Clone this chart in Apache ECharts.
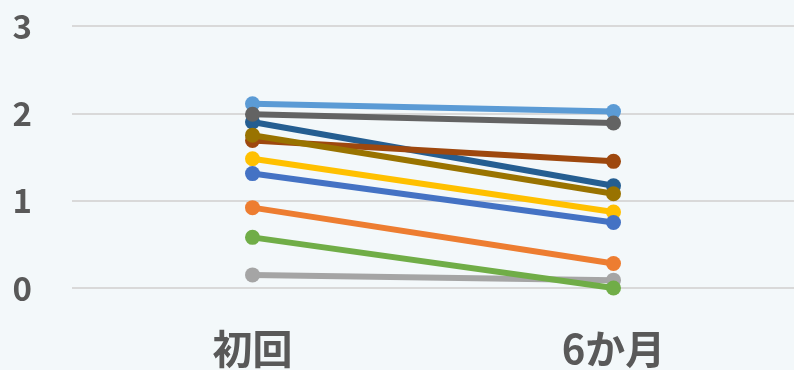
<!DOCTYPE html>
<html>
<head>
<meta charset="utf-8">
<script src="https://cdn.jsdelivr.net/npm/echarts@6/dist/echarts.min.js"></script>
<style>
  html, body { margin: 0; padding: 0; background: #F3F8FA; }
  #chart { width: 794px; height: 370px; }
</style>
</head>
<body>
<div id="chart"></div>
<script>
// Time points on the x axis
const categories = ['初回', '6か月'];
const yTicks = [0, 1, 2, 3];

// One line per subject: [初回, 6か月]
const s1 = [2.11, 2.02];
const s2 = [0.92, 0.28];
const s3 = [0.15, 0.09];
const s4 = [1.48, 0.87];
const s5 = [1.31, 0.75];
const s6 = [0.58, 0.00];
const s7 = [1.90, 1.17];
const s8 = [1.69, 1.45];
const s9 = [1.99, 1.89];
const s10 = [1.75, 1.08];

const seriesValues = [s1, s2, s3, s4, s5, s6, s7, s8, s9, s10];
const colors = ['#5B9BD5', '#ED7D31', '#A5A5A5', '#FFC000', '#4472C4',
                '#70AD47', '#255E91', '#9E480E', '#636363', '#997300'];

const chart = echarts.init(document.getElementById('chart'));
chart.setOption({
  backgroundColor: '#F3F8FA',
  animation: false,
  grid: { left: 72, right: 0, top: 26, bottom: 82 },
  xAxis: {
    type: 'category',
    data: categories,
    boundaryGap: true,
    axisLine: { show: false },
    axisTick: { show: false },
    axisLabel: {
      color: '#595959',
      fontFamily: 'Noto Sans CJK JP',
      fontWeight: 'bold',
      fontSize: 40,
      margin: 41
    }
  },
  yAxis: {
    type: 'value',
    min: yTicks[0],
    max: yTicks[yTicks.length - 1],
    interval: 1,
    axisLine: { show: false },
    axisTick: { show: false },
    splitLine: { lineStyle: { color: '#D9D9D9', width: 2 } },
    axisLabel: {
      color: '#595959',
      fontFamily: 'Noto Sans CJK JP',
      fontWeight: 'bold',
      fontSize: 33,
      margin: 40
    }
  },
  series: seriesValues.map((vals, i) => ({
    type: 'line',
    data: vals,
    symbol: 'circle',
    symbolSize: 15,
    lineStyle: { width: 6, color: colors[i] },
    itemStyle: { color: colors[i] },
    z: 2 + i
  }))
});
</script>
</body>
</html>
